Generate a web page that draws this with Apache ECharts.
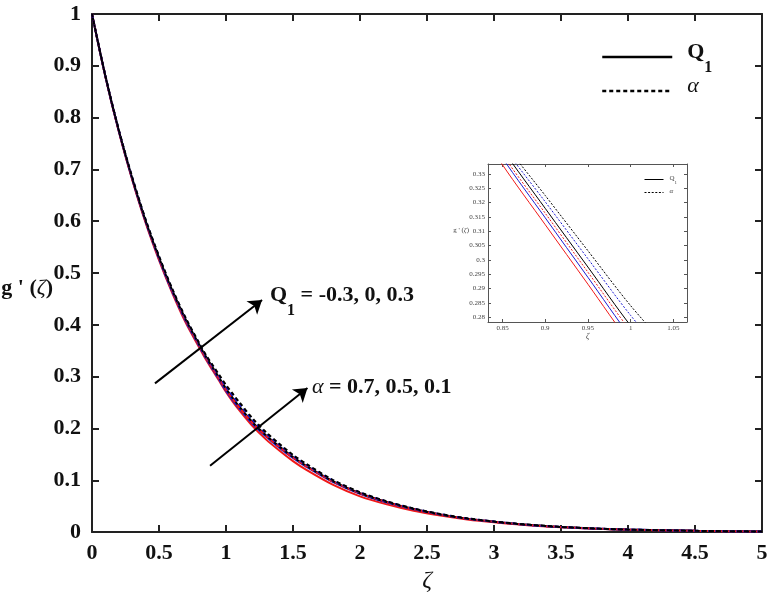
<!DOCTYPE html>
<html><head><meta charset="utf-8">
<script src="https://cdn.jsdelivr.net/npm/echarts/dist/echarts.min.js"></script>
<style>html,body{margin:0;padding:0;background:#fff}#c{width:772px;height:598px}</style>
</head><body><div id="c"></div>
<script>
// ---- data ----
const zeta = [0,0.1,0.2,0.3,0.4,0.5,0.6,0.7,0.8,0.85,0.9,0.95,1.0,1.05,1.1,1.2,1.3,1.4,1.5,1.6,1.8,2.0,2.2,2.4,2.6,2.8,3.0,3.25,3.5,3.75,4.0,4.5,5.0];
// solid lines: Q1 = -0.3 (red), 0 (blue), 0.3 (black)
const gQ1neg  = [1.0,0.879,0.773,0.680,0.597,0.525,0.461,0.404,0.3565,0.3332,0.3123,0.2915,0.2706,0.2520,0.2350,0.2040,0.1785,0.1570,0.1370,0.1200,0.0910,0.0690,0.0535,0.0410,0.0318,0.0245,0.0190,0.0134,0.0095,0.0067,0.0047,0.0024,0.0012];
const gQ1zero = [1.0,0.8795,0.774,0.6815,0.599,0.5275,0.463,0.407,0.3591,0.3356,0.3147,0.2939,0.2730,0.2547,0.2385,0.2085,0.1840,0.1625,0.1430,0.1260,0.0965,0.0740,0.0570,0.0440,0.0337,0.0258,0.0198,0.0139,0.0097,0.0068,0.0048,0.0024,0.0012];
const gQ1pos  = [1.0,0.880,0.775,0.683,0.601,0.530,0.466,0.410,0.362,0.3387,0.3180,0.2975,0.2770,0.2590,0.2420,0.2115,0.1865,0.1650,0.1450,0.1280,0.0980,0.0750,0.0580,0.0445,0.0340,0.0260,0.0200,0.0140,0.0098,0.0069,0.0048,0.0024,0.0012];
// dashed lines: alpha = 0.7 (red), 0.5 (blue), 0.1 (black)
const gA07 = [1.0,0.8798,0.7745,0.682,0.600,0.5285,0.4645,0.4085,0.3600,0.3368,0.3163,0.2957,0.2751,0.2570,0.2400,0.2100,0.1855,0.1640,0.1440,0.1270,0.0975,0.0748,0.0578,0.0443,0.0339,0.0260,0.0200,0.0140,0.0098,0.0069,0.0048,0.0024,0.0012];
const gA05 = [1.0,0.8805,0.7758,0.6842,0.6025,0.5315,0.4675,0.4115,0.3635,0.3401,0.3203,0.3004,0.2806,0.2633,0.2470,0.2160,0.1900,0.1680,0.1475,0.1300,0.0995,0.0762,0.0588,0.0452,0.0346,0.0265,0.0204,0.0143,0.0100,0.0070,0.0049,0.0025,0.0012];
const gA01 = [1.0,0.881,0.7765,0.685,0.6035,0.5328,0.469,0.413,0.3648,0.3417,0.3225,0.3032,0.2840,0.2672,0.2505,0.2190,0.1925,0.1700,0.1490,0.1315,0.1005,0.0770,0.0594,0.0456,0.0349,0.0267,0.0206,0.0145,0.0101,0.0071,0.0049,0.0025,0.0012];
const insetXTicks = [0.85,0.9,0.95,1,1.05];
const insetYTicks = [0.28,0.285,0.29,0.295,0.3,0.305,0.31,0.315,0.32,0.325,0.33];

const FONT = 'Liberation Serif';
const RED = '#f01818', BLUE = '#1c1cd2', BLACK = '#000000';
const pairs = arr => zeta.map((z, i) => [z, arr[i]]);

const curves = [
  {name: 'Q1 = -0.3', data: gQ1neg,  color: RED,   dashed: false},
  {name: 'Q1 = 0',    data: gQ1zero, color: BLUE,  dashed: false},
  {name: 'Q1',        data: gQ1pos,  color: BLACK, dashed: false},
  {name: 'α = 0.7',   data: gA07,    color: RED,   dashed: true},
  {name: 'α = 0.5',   data: gA05,    color: BLUE,  dashed: true},
  {name: 'α',         data: gA01,    color: BLACK, dashed: true}
];

const series = [];
curves.forEach(c => {
  series.push({
    type: 'line', name: c.name, xAxisIndex: 0, yAxisIndex: 0,
    data: pairs(c.data), showSymbol: false, symbol: 'none', smooth: 0.3,
    lineStyle: {color: c.color, width: 2, type: c.dashed ? [4, 3] : 'solid'},
    itemStyle: {color: c.color}, z: c.dashed ? 3 : 2
  });
});
curves.forEach(c => {
  series.push({
    type: 'line', name: c.name + ' (inset)', xAxisIndex: 2, yAxisIndex: 2,
    data: pairs(c.data), showSymbol: false, symbol: 'none', smooth: 0.3, clip: true,
    lineStyle: {color: c.color, width: 1, type: c.dashed ? [2, 1.6] : 'solid'},
    itemStyle: {color: c.color}
  });
});
// arrows (annotations)
series[5].markLine = {
  silent: true, symbol: ['none', 'arrow'], symbolSize: 13,
  label: {show: false},
  lineStyle: {color: '#000', width: 2, type: 'solid'},
  itemStyle: {color: '#000'},
  data: [
    [{coord: [0.470, 0.287]}, {coord: [1.269, 0.448]}],
    [{coord: [0.881, 0.128]}, {coord: [1.608, 0.278]}]
  ]
};

const mainAxisLine = {show: true, onZero: false, lineStyle: {color: '#222', width: 2}};
const mainTick = {show: true, inside: true, length: 7, lineStyle: {color: '#222', width: 2}};
const mainLabel = {fontFamily: FONT, fontWeight: 'bold', fontSize: 22, color: '#111'};
const insetAxisLine = {show: true, onZero: false, lineStyle: {color: '#555', width: 1}};
const insetTickX = {show: true, inside: true, length: 3, customValues: insetXTicks, lineStyle: {color: '#555', width: 1}};
const insetTickY = {show: true, inside: true, length: 3, customValues: insetYTicks, lineStyle: {color: '#555', width: 1}};
const insetLabel = {fontFamily: FONT, fontSize: 7, color: '#444'};
const hiddenSymbol = {color: 'rgba(0,0,0,0)', borderWidth: 0, opacity: 0};

// rich styles for "Q" with a dropped subscript "1"
const bigRich = (fill, extra) => Object.assign({
  q: {fontFamily: FONT, fontWeight: 'bold', fontSize: 22, lineHeight: 32, verticalAlign: 'top', color: fill, fill: fill},
  s: {fontFamily: FONT, fontWeight: 'bold', fontSize: 16, lineHeight: 12, padding: [19, 0, 0, 0], verticalAlign: 'top', color: fill, fill: fill},
  t: {fontFamily: FONT, fontWeight: 'bold', fontSize: 22, lineHeight: 32, verticalAlign: 'top', color: fill, fill: fill},
  a: {fontFamily: FONT, fontStyle: 'italic', fontSize: 22, lineHeight: 32, verticalAlign: 'top', color: fill, fill: fill}
}, extra || {});

const option = {
  animation: false,
  backgroundColor: '#fff',
  grid: [
    {left: 92, right: 10, top: 14, bottom: 59},
    {left: 488, top: 164, width: 199, height: 158}
  ],
  xAxis: [
    {type: 'value', gridIndex: 0, min: 0, max: 5, interval: 0.5,
     axisLine: mainAxisLine, axisTick: mainTick,
     axisLabel: Object.assign({margin: 10, showMinLabel: true, showMaxLabel: true}, mainLabel),
     splitLine: {show: false},
     name: 'ζ', nameLocation: 'middle', nameGap: 36,
     nameTextStyle: {fontFamily: FONT, fontStyle: 'italic', fontSize: 24, color: '#111'}},
    {type: 'value', gridIndex: 0, position: 'top', min: 0, max: 5, interval: 0.5,
     axisLine: mainAxisLine, axisTick: mainTick, axisLabel: {show: false}, splitLine: {show: false}},
    {type: 'value', gridIndex: 1, min: 0.833, max: 1.066,
     axisLine: insetAxisLine, axisTick: insetTickX,
     axisLabel: Object.assign({margin: 3, customValues: insetXTicks}, insetLabel),
     splitLine: {show: false},
     name: 'ζ', nameLocation: 'middle', nameGap: 10,
     nameTextStyle: {fontFamily: FONT, fontStyle: 'italic', fontSize: 8, color: '#444'}},
    {type: 'value', gridIndex: 1, position: 'top', min: 0.833, max: 1.066,
     axisLine: insetAxisLine, axisTick: insetTickX, axisLabel: {show: false}, splitLine: {show: false}}
  ],
  yAxis: [
    {type: 'value', gridIndex: 0, min: 0, max: 1, interval: 0.1,
     axisLine: mainAxisLine, axisTick: mainTick,
     axisLabel: Object.assign({margin: 11, showMinLabel: true, showMaxLabel: true}, mainLabel),
     splitLine: {show: false}},
    {type: 'value', gridIndex: 0, position: 'right', min: 0, max: 1, interval: 0.1,
     axisLine: mainAxisLine, axisTick: mainTick, axisLabel: {show: false}, splitLine: {show: false}},
    {type: 'value', gridIndex: 1, min: 0.2783, max: 0.3335,
     axisLine: insetAxisLine, axisTick: insetTickY,
     axisLabel: Object.assign({margin: 3, customValues: insetYTicks}, insetLabel),
     splitLine: {show: false}},
    {type: 'value', gridIndex: 1, position: 'right', min: 0.2783, max: 0.3335,
     axisLine: insetAxisLine, axisTick: insetTickY, axisLabel: {show: false}, splitLine: {show: false}}
  ],
  legend: [
    {orient: 'vertical', left: 596, top: 36, itemWidth: 70, itemHeight: 14, itemGap: -1,
     data: [{name: 'Q1'}, {name: 'α'}], selectedMode: false,
     itemStyle: hiddenSymbol,
     lineStyle: {width: 2.5},
     formatter: n => n === 'Q1' ? '{q|Q}{s|1}' : '{a|α}',
     textStyle: {padding: [0, 0, 0, 10], rich: bigRich('#111')}},
    {orient: 'vertical', left: 639, top: 170, itemWidth: 19, itemHeight: 5, itemGap: 3,
     data: [{name: 'Q1', lineStyle: {width: 1}}, {name: 'α', lineStyle: {width: 1, type: [2, 1.6]}}],
     selectedMode: false,
     itemStyle: hiddenSymbol,
     formatter: n => n === 'Q1' ? '{q|Q}{s|1}' : '{a|α}',
     textStyle: {padding: [0, 0, 0, 1], rich: {
       q: {fontFamily: FONT, fontSize: 7, lineHeight: 9, verticalAlign: 'top', color: '#444'},
       s: {fontFamily: FONT, fontSize: 5, lineHeight: 4, padding: [5, 0, 0, 0], verticalAlign: 'top', color: '#444'},
       a: {fontFamily: FONT, fontStyle: 'italic', fontSize: 7, lineHeight: 9, verticalAlign: 'top', color: '#444'}
     }}}
  ],
  graphic: [
    {type: 'text', x: 53, y: 288, style: {
      text: "{b|g ' (}{i|ζ}{b|)}", align: 'right', verticalAlign: 'middle',
      rich: {b: {fontFamily: FONT, fontWeight: 'bold', fontSize: 22, fill: '#111'},
             i: {fontFamily: FONT, fontStyle: 'italic', fontSize: 22, fill: '#111'}}}},
    {type: 'text', x: 469, y: 230, style: {
      text: "{b|g ' (}{i|ζ}{b|)}", align: 'right', verticalAlign: 'middle',
      rich: {b: {fontFamily: FONT, fontSize: 7, fill: '#444'},
             i: {fontFamily: FONT, fontStyle: 'italic', fontSize: 7, fill: '#444'}}}},
    {type: 'text', x: 270, y: 300, style: {
      text: '{q|Q}{s|1}{t| = -0.3, 0, 0.3}', align: 'left', verticalAlign: 'middle',
      rich: bigRich('#111')}},
    {type: 'text', x: 312, y: 392, style: {
      text: '{a|α}{t| = 0.7, 0.5, 0.1}', align: 'left', verticalAlign: 'middle',
      rich: bigRich('#111')}}
  ],
  series: series
};
const chart = echarts.init(document.getElementById('c'), null, {renderer: 'canvas'});
chart.setOption(option);
</script></body></html>
